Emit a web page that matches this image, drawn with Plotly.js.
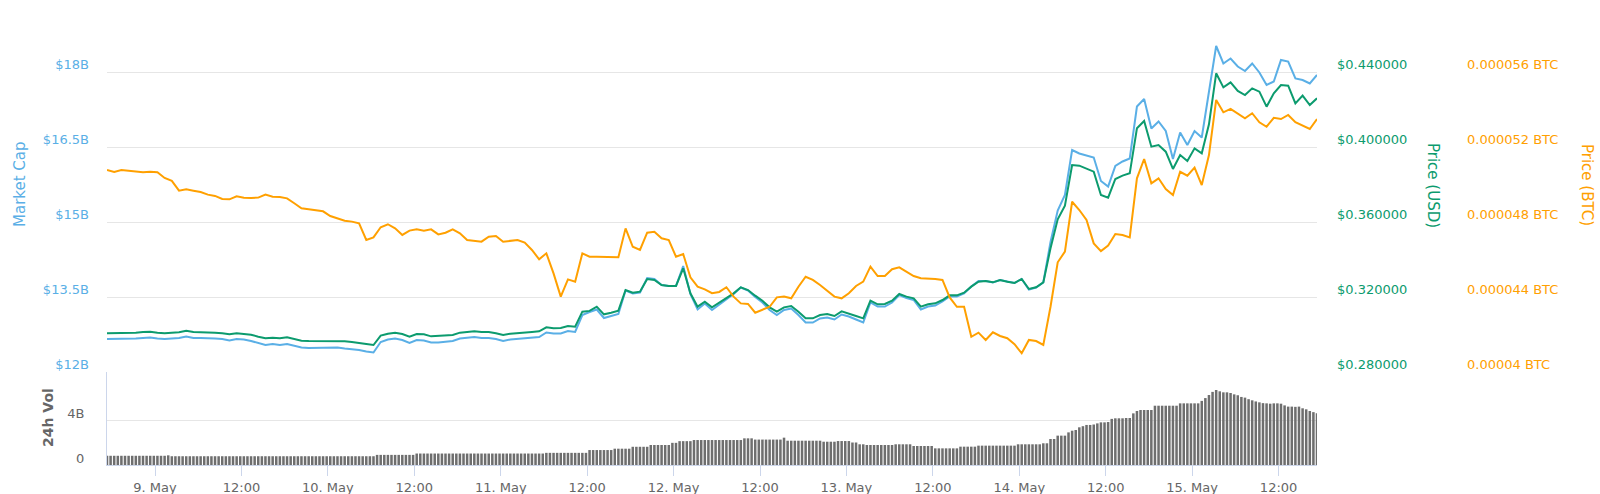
<!DOCTYPE html>
<html>
<head>
<meta charset="utf-8">
<script src="https://cdn.plot.ly/plotly-3.0.1.min.js"></script>
<style>
  html, body { margin: 0; padding: 0; background: #ffffff; }
  #chart { width: 1600px; height: 494px; }
</style>
</head>
<body>
<div id="chart"></div>
<script>
// ---------- DATA ----------
// Line series: hourly samples starting 8 May 17:20
const lineStart = '2019-05-08T17:20:00Z';
const lineStepMinutes = 60;

// Market cap, billions USD
const marketCapB = [
  12.66,12.66,12.66,12.66,12.67,12.68,12.69,12.67,12.66,12.67,
  12.68,12.71,12.68,12.68,12.68,12.67,12.66,12.63,12.66,12.65,
  12.62,12.58,12.54,12.56,12.54,12.56,12.52,12.49,12.48,12.48,
  12.48,12.48,12.49,12.47,12.46,12.44,12.41,12.39,12.60,12.65,
  12.67,12.64,12.58,12.64,12.63,12.59,12.59,12.60,12.62,12.67,
  12.69,12.70,12.68,12.68,12.66,12.62,12.65,12.66,12.67,12.68,
  12.70,12.79,12.77,12.77,12.82,12.80,13.14,13.20,13.25,13.08,
  13.12,13.16,13.63,13.57,13.59,13.88,13.86,13.74,13.72,13.72,
  14.12,13.56,13.25,13.37,13.24,13.35,13.46,13.56,13.69,13.63,
  13.50,13.39,13.24,13.14,13.24,13.27,13.14,12.99,12.99,13.07,
  13.09,13.05,13.15,13.11,13.05,12.99,13.39,13.31,13.31,13.39,
  13.54,13.48,13.44,13.25,13.31,13.33,13.41,13.51,13.51,13.57,
  13.71,13.82,13.82,13.79,13.84,13.81,13.78,13.86,13.65,13.69,
  13.79,14.60,15.23,15.54,16.44,16.37,16.33,16.29,15.82,15.71,
  16.12,16.21,16.27,17.31,17.46,16.87,17.01,16.82,16.26,16.79,
  16.54,16.82,16.69,17.57,18.52,18.17,18.27,18.11,18.02,18.17,
  17.99,17.74,17.81,18.24,18.21,17.87,17.84,17.77,17.94
];

// Price in USD
const priceUSD = [
  0.30062,0.30062,0.30062,0.30062,0.30098,0.30133,0.30151,0.30098,0.30062,0.30098,
  0.30116,0.30204,0.30133,0.30116,0.30116,0.30098,0.30062,0.30009,0.30062,0.30044,
  0.29991,0.29884,0.29796,0.29831,0.29796,0.29849,0.29742,0.29671,0.29653,0.29653,
  0.29653,0.29653,0.29671,0.29636,0.29600,0.29564,0.29493,0.29440,0.29938,0.30044,
  0.30098,0.30027,0.29884,0.30027,0.30009,0.29902,0.29920,0.29938,0.29973,0.30098,
  0.30151,0.30169,0.30133,0.30133,0.30062,0.29973,0.30044,0.30062,0.30098,0.30133,
  0.30169,0.30382,0.30329,0.30347,0.30453,0.30418,0.31218,0.31260,0.31484,0.31076,
  0.31164,0.31271,0.32373,0.32231,0.32284,0.32960,0.32907,0.32640,0.32587,0.32587,
  0.33529,0.32196,0.31484,0.31751,0.31449,0.31698,0.31964,0.32196,0.32516,0.32373,
  0.32071,0.31804,0.31449,0.31218,0.31449,0.31520,0.31218,0.30862,0.30862,0.31040,
  0.31093,0.30987,0.31236,0.31129,0.30987,0.30862,0.31804,0.31609,0.31627,0.31804,
  0.32160,0.32018,0.31929,0.31484,0.31609,0.31662,0.31840,0.32089,0.32089,0.32231,
  0.32551,0.32818,0.32853,0.32782,0.32907,0.32818,0.32747,0.32960,0.32427,0.32516,
  0.32782,0.34596,0.36142,0.36871,0.39040,0.39004,0.38827,0.38684,0.37440,0.37298,
  0.38293,0.38471,0.38596,0.40996,0.41387,0.40018,0.40107,0.39751,0.38827,0.39573,
  0.39253,0.39929,0.39662,0.41209,0.43929,0.43182,0.43449,0.42987,0.42773,0.43129,
  0.42951,0.42151,0.42862,0.43307,0.43271,0.42329,0.42738,0.42240,0.42596
];

// Price in BTC
const priceBTC = [
  0.00005077,0.00005067,0.00005077,0.00005074,0.00005072,0.00005065,0.00005068,0.00005065,0.00005035,0.00005019,
  0.00004967,0.00004974,0.00004967,0.00004960,0.00004946,0.00004939,0.00004923,0.00004921,0.00004937,0.00004930,
  0.00004928,0.00004930,0.00004946,0.00004935,0.00004933,0.00004926,0.00004900,0.00004873,0.00004868,0.00004864,
  0.00004857,0.00004832,0.00004820,0.00004807,0.00004802,0.00004793,0.00004704,0.00004718,0.00004772,0.00004788,
  0.00004766,0.00004731,0.00004754,0.00004761,0.00004754,0.00004761,0.00004734,0.00004743,0.00004761,0.00004740,
  0.00004704,0.00004700,0.00004695,0.00004722,0.00004725,0.00004695,0.00004700,0.00004704,0.00004690,0.00004651,
  0.00004601,0.00004633,0.00004526,0.00004402,0.00004494,0.00004482,0.00004633,0.00004615,0.00004615,0.00004615,
  0.00004615,0.00004612,0.00004766,0.00004668,0.00004651,0.00004743,0.00004748,0.00004713,0.00004704,0.00004615,
  0.00004629,0.00004505,0.00004455,0.00004441,0.00004420,0.00004427,0.00004452,0.00004402,0.00004366,0.00004363,
  0.00004316,0.00004331,0.00004348,0.00004398,0.00004402,0.00004393,0.00004455,0.00004508,0.00004491,0.00004464,
  0.00004434,0.00004402,0.00004393,0.00004420,0.00004459,0.00004482,0.00004562,0.00004512,0.00004512,0.00004548,
  0.00004558,0.00004535,0.00004512,0.00004500,0.00004500,0.00004496,0.00004491,0.00004398,0.00004348,0.00004348,
  0.00004188,0.00004210,0.00004171,0.00004212,0.00004192,0.00004180,0.00004148,0.00004100,0.00004171,0.00004165,
  0.00004144,0.00004348,0.00004585,0.00004642,0.00004908,0.00004864,0.00004811,0.00004686,0.00004645,0.00004674,
  0.00004736,0.00004731,0.00004718,0.00005033,0.00005136,0.00005006,0.00005033,0.00004976,0.00004944,0.00005068,
  0.00005047,0.00005090,0.00004997,0.00005157,0.00005451,0.00005385,0.00005403,0.00005380,0.00005353,0.00005380,
  0.00005332,0.00005308,0.00005356,0.00005349,0.00005371,0.00005332,0.00005314,0.00005296,0.00005349
];

// 24h volume bars: half-hourly samples from the same start, billions USD
const volStepMinutes = 30;
const volumeB = [
  0.82,0.82,0.82,0.82,0.82,0.82,0.82,0.82,0.82,0.82,0.82,0.82,0.82,0.82,0.82,0.82,0.82,0.86,
  0.78,0.78,0.78,0.78,0.78,0.78,0.78,0.78,0.78,0.78,0.78,0.78,0.78,0.78,0.78,0.78,0.78,0.78,0.78,
  0.78,0.78,0.78,0.78,0.78,0.78,0.78,0.78,0.78,0.78,0.78,0.78,0.78,0.78,0.78,0.78,0.78,0.78,0.78,
  0.78,0.78,0.78,0.78,0.78,0.78,0.78,0.78,0.78,0.78,0.78,0.78,0.78,0.78,0.78,0.78,0.78,0.78,0.78,
  0.90,0.90,0.90,0.90,0.90,0.90,0.90,0.90,0.90,0.90,0.90,
  1.02,1.02,1.02,1.02,1.02,1.02,1.02,1.02,1.02,1.02,1.02,1.02,1.02,1.02,1.02,1.02,1.02,1.02,
  1.02,1.02,1.02,1.02,1.02,1.02,1.02,1.02,1.02,1.02,1.02,1.02,1.02,1.02,1.02,1.02,1.02,1.02,
  1.08,1.08,1.08,1.08,1.08,1.08,1.08,1.08,1.08,1.08,1.08,1.08,
  1.33,1.33,1.33,1.33,1.33,1.33,1.33,
  1.45,1.45,1.45,1.45,1.45,
  1.62,1.62,1.62,1.62,1.62,
  1.78,1.78,1.78,1.78,1.78,1.78,
  1.97,1.97,
  2.12,2.12,2.12,2.12,
  2.22,2.22,2.22,2.22,2.22,2.22,2.22,2.22,2.22,2.22,2.22,2.22,2.22,2.22,
  2.37,2.37,2.37,
  2.26,2.26,2.26,2.26,2.26,2.26,2.26,2.26,
  2.43,
  2.16,2.16,2.16,2.16,2.16,2.16,2.16,2.16,2.16,2.16,
  2.07,2.07,2.07,2.07,
  2.13,2.13,2.13,2.13,
  2.00,2.00,
  1.84,1.84,
  1.78,1.78,1.78,1.78,1.78,1.78,1.78,1.78,
  1.84,1.84,1.84,1.84,1.84,
  1.69,1.69,1.69,1.69,1.69,1.69,
  1.48,1.48,1.48,1.48,1.48,1.48,1.48,
  1.63,1.63,1.63,1.63,1.63,
  1.72,1.72,1.72,1.72,1.72,1.72,1.72,1.72,1.72,1.72,1.72,
  1.84,1.84,1.84,1.84,1.84,1.84,1.84,
  1.93,1.93,
  2.31,2.31,
  2.61,2.61,2.61,
  2.90,3.05,3.11,
  3.35,3.45,3.56,3.56,3.60,
  3.70,3.79,3.79,3.82,
  4.10,4.15,4.15,4.15,4.18,4.18,
  4.59,4.80,
  4.89,4.89,4.89,4.89,
  5.27,5.27,5.27,5.27,5.27,5.27,5.27,
  5.48,5.48,5.48,5.48,5.48,5.48,
  5.70,5.95,6.22,6.50,6.67,
  6.55,6.46,6.46,6.40,
  6.28,6.20,6.05,5.99,
  5.85,5.75,5.65,
  5.57,5.50,5.48,5.45,5.48,5.48,5.45,
  5.30,5.19,5.19,5.17,5.19,
  5.04,4.95,4.80,4.70,4.59
];

// Axis ticks
const xTickTimes = ['2019-05-09 00:00','2019-05-09 12:00','2019-05-10 00:00','2019-05-10 12:00',
  '2019-05-11 00:00','2019-05-11 12:00','2019-05-12 00:00','2019-05-12 12:00','2019-05-13 00:00',
  '2019-05-13 12:00','2019-05-14 00:00','2019-05-14 12:00','2019-05-15 00:00','2019-05-15 12:00'];
const xTickLabels = ['9. May','12:00','10. May','12:00','11. May','12:00','12. May','12:00',
  '13. May','12:00','14. May','12:00','15. May','12:00'];
const mcapTicks = [12, 13.5, 15, 16.5, 18];
const mcapTickLabels = ['$12B','$13.5B','$15B','$16.5B','$18B'];
const usdTicks = [0.28, 0.32, 0.36, 0.40, 0.44];
const btcTicks = [0.000040, 0.000044, 0.000048, 0.000052, 0.000056];
const btcTickLabels = ['0.00004 BTC','0.000044 BTC','0.000048 BTC','0.000052 BTC','0.000056 BTC'];
const volTicks = [0, 4];
const volTickLabels = ['0', '4B'];

// ---------- BUILD ----------
function timeGrid(n, stepMin) {
  const t0 = Date.parse(lineStart);
  const out = [];
  for (let i = 0; i < n; i++) {
    const d = new Date(t0 + i * stepMin * 60000);
    out.push(d.toISOString().slice(0, 16).replace('T', ' '));
  }
  return out;
}
const lineTimes = timeGrid(marketCapB.length, lineStepMinutes);
const volTimes = timeGrid(volumeB.length, volStepMinutes);

const C_BLUE = '#5aafe6';
const C_GREEN = '#0c9b6e';
const C_ORANGE = '#ffa000';
const FONT = 'DejaVu Sans, Verdana, sans-serif';

const traces = [
  { type: 'bar', x: volTimes, y: volumeB, xaxis: 'x', yaxis: 'y2',
    marker: { color: '#6e6e6e', line: { width: 0 } }, hoverinfo: 'skip', showlegend: false },
  { type: 'scatter', mode: 'lines', x: lineTimes, y: marketCapB, xaxis: 'x', yaxis: 'y',
    line: { color: C_BLUE, width: 2 }, name: 'Market Cap', showlegend: false },
  { type: 'scatter', mode: 'lines', x: lineTimes, y: priceUSD, xaxis: 'x', yaxis: 'y3',
    line: { color: C_GREEN, width: 2 }, name: 'Price (USD)', showlegend: false },
  { type: 'scatter', mode: 'lines', x: lineTimes, y: priceBTC, xaxis: 'x', yaxis: 'y4',
    line: { color: C_ORANGE, width: 2 }, name: 'Price (BTC)', showlegend: false }
];

const W = 1600, H = 494;
const mL = 107, mR = 0, mT = 30, mB = 29;
const paperW = W - mL - mR, paperH = H - mT - mB;
const plotRight = 1317;
const volTopPx = 372;
const px2x = px => (px - mL) / paperW;
const py2y = py => (H - mB - py) / paperH;
const splitY = py2y(volTopPx);

const layout = {
  width: W, height: H,
  margin: { l: mL, r: mR, t: mT, b: mB, pad: 0 },
  paper_bgcolor: '#ffffff', plot_bgcolor: 'rgba(0,0,0,0)',
  font: { family: FONT, size: 13, color: '#666666' },
  bargap: 0.3,
  showlegend: false,
  xaxis: {
    type: 'date', domain: [0, px2x(plotRight)], anchor: 'y2',
    range: ['2019-05-08 17:20', '2019-05-15 17:20'],
    tickvals: xTickTimes, ticktext: xTickLabels,
    ticks: 'outside', ticklen: 10, tickcolor: '#ccd6eb', tickwidth: 1,
    showline: true, linecolor: '#ccd6eb', linewidth: 1,
    showgrid: false, zeroline: false,
    tickfont: { family: FONT, size: 13, color: '#666666' }
  },
  yaxis: {
    domain: [splitY, 1], range: [12, 18.84], anchor: 'x',
    tickvals: mcapTicks, ticktext: mcapTickLabels,
    showgrid: true, gridcolor: '#e6e6e6', gridwidth: 1, zeroline: false, showline: false,
    ticks: '', ticklabelstandoff: 17, ticklabelshift: -8,
    tickfont: { family: FONT, size: 13, color: C_BLUE }
  },
  yaxis2: {
    domain: [0, splitY], range: [0, 8.267], anchor: 'x',
    tickvals: volTicks, ticktext: volTickLabels,
    showgrid: true, gridcolor: '#e6e6e6', gridwidth: 1, zeroline: false,
    showline: true, linecolor: '#ccd6eb', linewidth: 1,
    ticks: '', ticklabelstandoff: 19, ticklabelshift: -7,
    tickfont: { family: FONT, size: 13, color: '#666666' }
  },
  yaxis3: {
    overlaying: 'y', side: 'right', anchor: 'x',
    range: [0.28, 0.4624], tickvals: usdTicks, tickformat: '$.6f',
    showgrid: false, zeroline: false, showline: false,
    ticks: '', ticklabelstandoff: 19, ticklabelshift: -8,
    tickfont: { family: FONT, size: 13, color: C_GREEN }
  },
  yaxis4: {
    overlaying: 'y', side: 'right', anchor: 'free', position: px2x(1447),
    range: [0.000040, 0.00005824], tickvals: btcTicks, ticktext: btcTickLabels,
    showgrid: false, zeroline: false, showline: false,
    ticks: '', ticklabelstandoff: 19, ticklabelshift: -8,
    tickfont: { family: FONT, size: 13, color: C_ORANGE }
  },
  annotations: [
    { text: 'Market Cap', xref: 'paper', yref: 'paper', x: px2x(20), y: py2y(184),
      xanchor: 'center', yanchor: 'middle', textangle: -90, showarrow: false,
      font: { family: FONT, size: 15, color: C_BLUE } },
    { text: 'Price (USD)', xref: 'paper', yref: 'paper', x: px2x(1433), y: py2y(185),
      xanchor: 'center', yanchor: 'middle', textangle: 90, showarrow: false,
      font: { family: FONT, size: 15, color: C_GREEN } },
    { text: 'Price (BTC)', xref: 'paper', yref: 'paper', x: px2x(1587), y: py2y(185),
      xanchor: 'center', yanchor: 'middle', textangle: 90, showarrow: false,
      font: { family: FONT, size: 15, color: C_ORANGE } },
    { text: '<b>24h Vol</b>', xref: 'paper', yref: 'paper', x: px2x(48), y: py2y(418),
      xanchor: 'center', yanchor: 'middle', textangle: -90, showarrow: false,
      font: { family: FONT, size: 14, color: '#666666' } }
  ]
};

Plotly.newPlot('chart', traces, layout, { staticPlot: true, displayModeBar: false });
</script>
</body>
</html>
